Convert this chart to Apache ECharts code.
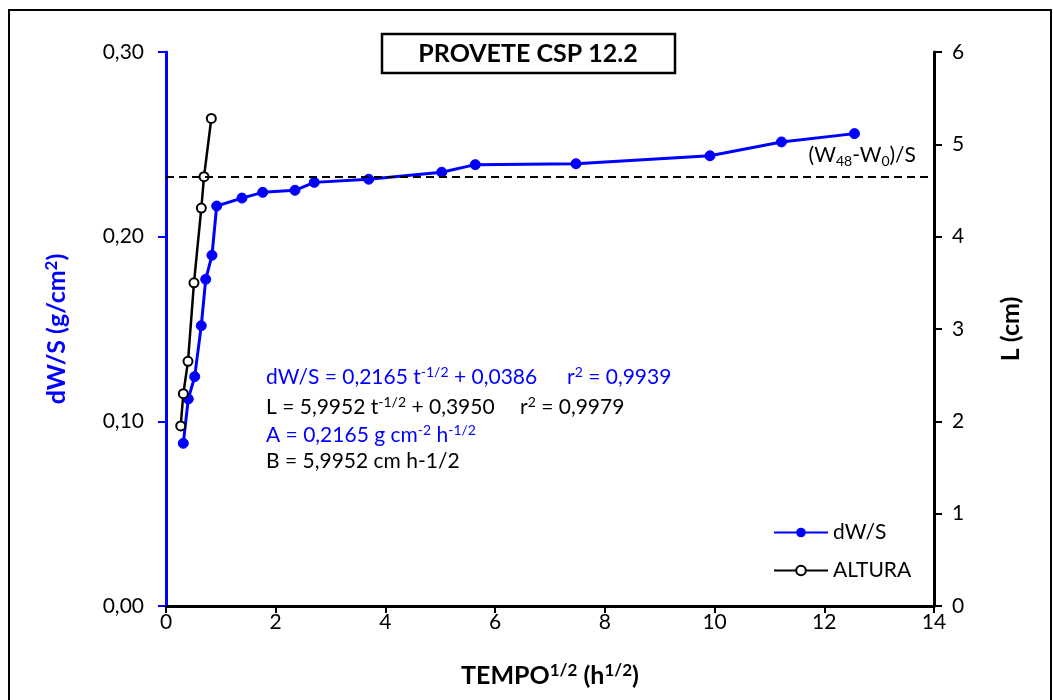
<!DOCTYPE html>
<html>
<head>
<meta charset="utf-8">
<script src="https://cdn.jsdelivr.net/npm/echarts@6/dist/echarts.min.js"></script>
<style>
  html, body { margin: 0; padding: 0; background: #fff; }
  #chart { width: 1053px; height: 700px; }
</style>
</head>
<body>
<div id="chart"></div>
<script>
// Water absorption by capillarity, specimen CSP 12.2
const tempoDW = [0.315, 0.406, 0.523, 0.643, 0.724, 0.838, 0.924, 1.385, 1.763, 2.351, 2.703, 3.695, 5.026, 5.638, 7.474, 9.916, 11.22, 12.55];
const dWS = [0.0881, 0.1121, 0.1242, 0.1518, 0.1769, 0.1899, 0.2166, 0.2209, 0.2240, 0.2251, 0.2294, 0.2311, 0.2349, 0.2390, 0.2395, 0.2438, 0.2513, 0.2558];

const tempoAltura = [0.268, 0.316, 0.401, 0.510, 0.644, 0.693, 0.826];
const altura = [1.95, 2.30, 2.65, 3.50, 4.31, 4.65, 5.28];

// (W48 - W0)/S reference level
const w48Level = 0.2323;

const xTicks = { min: 0, max: 14, interval: 2 };
const yLeftTicks = { min: 0, max: 0.30, interval: 0.10 };
const yRightTicks = { min: 0, max: 6, interval: 1 };

const FONT = 'Lato, "Open Sans", sans-serif';
const BLUE = '#0000ff';

const chart = echarts.init(document.getElementById('chart'), null, { renderer: 'canvas' });

const pair = (xs, ys) => xs.map((x, i) => [x, ys[i]]);

const supStyle = { fontSize: 14, verticalAlign: 'top', padding: [0, 0, 9, 0] };

chart.setOption({
  animation: false,
  backgroundColor: '#fff',
  grid: { left: 166, right: 119, top: 52, bottom: 94 },
  xAxis: {
    type: 'value',
    min: xTicks.min, max: xTicks.max, interval: xTicks.interval,
    axisLine: { lineStyle: { color: '#000', width: 3 } },
    axisTick: { show: true, inside: false, length: 7, lineStyle: { color: '#000', width: 2 } },
    axisLabel: { margin: 6, fontFamily: FONT, fontSize: 21, color: '#000' },
    splitLine: { show: false },
    name: 'TEMPO{s|1/2} (h{s|1/2})',
    nameLocation: 'middle',
    nameGap: 56,
    nameTextStyle: {
      fontFamily: FONT, fontSize: 25, fontWeight: 'bold', color: '#000',
      rich: { s: { fontFamily: FONT, fontSize: 17, fontWeight: 'bold', color: '#000', verticalAlign: 'top', padding: [0, 0, 11, 0] } }
    }
  },
  yAxis: [
    {
      type: 'value', position: 'left',
      min: yLeftTicks.min, max: yLeftTicks.max, interval: yLeftTicks.interval,
      axisLine: { show: true, lineStyle: { color: BLUE, width: 3 } },
      axisTick: { show: true, inside: false, length: 8, lineStyle: { color: BLUE, width: 2 } },
      axisLabel: {
        margin: 22, fontFamily: FONT, fontSize: 21, color: '#000',
        formatter: v => v.toFixed(2).replace('.', ',')
      },
      splitLine: { show: false },
      name: 'dW/S (g/cm{s|2})',
      nameLocation: 'middle',
      nameRotate: 90,
      nameGap: 95,
      nameTextStyle: {
        fontFamily: FONT, fontSize: 25, fontWeight: 'bold', color: BLUE,
        rich: { s: { fontFamily: FONT, fontSize: 17, fontWeight: 'bold', color: BLUE, verticalAlign: 'top', padding: [0, 0, 11, 0] } }
      }
    },
    {
      type: 'value', position: 'right',
      min: yRightTicks.min, max: yRightTicks.max, interval: yRightTicks.interval,
      axisLine: { show: true, lineStyle: { color: '#000', width: 3 } },
      axisTick: { show: true, inside: false, length: 8, lineStyle: { color: '#000', width: 2 } },
      axisLabel: { margin: 18, fontFamily: FONT, fontSize: 21, color: '#000' },
      splitLine: { show: false },
      name: 'L (cm)',
      nameLocation: 'middle',
      nameRotate: 90,
      nameGap: 64,
      nameTextStyle: { fontFamily: FONT, fontSize: 25, fontWeight: 'bold', color: '#000' }
    }
  ],
  legend: {
    orient: 'vertical',
    left: 768, top: 517,
    itemWidth: 54, itemHeight: 12, itemGap: 17,
    textStyle: { fontFamily: FONT, fontSize: 21, color: '#000' },
    data: ['dW/S', 'ALTURA']
  },
  series: [
    {
      name: 'dW/S',
      type: 'line',
      yAxisIndex: 0,
      data: pair(tempoDW, dWS),
      symbol: 'circle',
      symbolSize: 10,
      lineStyle: { color: BLUE, width: 3 },
      itemStyle: { color: BLUE, borderColor: BLUE },
      z: 3,
      markLine: {
        silent: true,
        precision: 4,
        symbol: ['none', 'none'],
        lineStyle: { color: '#000', type: [8, 5], width: 2 },
        label: {
          show: true,
          position: 'insideEndTop',
          distance: [18, 9],
          formatter: '(W{b|48}-W{b|0})/S',
          fontFamily: FONT, fontSize: 21, color: '#000',
          rich: { b: { fontFamily: FONT, fontSize: 14, color: '#000', verticalAlign: 'bottom', padding: [11, 0, 0, 0] } }
        },
        data: [{ yAxis: w48Level }]
      }
    },
    {
      name: 'ALTURA',
      type: 'line',
      yAxisIndex: 1,
      data: pair(tempoAltura, altura),
      symbol: 'circle',
      symbolSize: 9,
      lineStyle: { color: '#000', width: 2.5 },
      itemStyle: { color: '#fff', borderColor: '#000', borderWidth: 2 },
      z: 4
    }
  ],
  graphic: [
    // outer frame
    {
      type: 'rect', silent: true, z: 0,
      shape: { x: 9, y: 10, width: 1042, height: 700 },
      style: { fill: 'none', stroke: '#000', lineWidth: 2 }
    },
    // title box
    {
      type: 'rect', silent: true,
      shape: { x: 382, y: 34, width: 293, height: 39 },
      style: { fill: '#fff', stroke: '#000', lineWidth: 2.5 }
    },
    {
      type: 'text', silent: true,
      x: 528, y: 54,
      style: {
        text: 'PROVETE CSP 12.2',
        fontFamily: FONT, fontSize: 25, fontWeight: 'bold', fill: '#000',
        align: 'center', verticalAlign: 'middle'
      }
    },
    // fitted equations
    {
      type: 'text', silent: true, x: 266, y: 377,
      style: {
        text: 'dW/S = 0,2165 t{s|-1/2} + 0,0386',
        fontFamily: FONT, fontSize: 21, fill: BLUE, verticalAlign: 'middle',
        rich: { s: Object.assign({ fontFamily: FONT, fill: BLUE }, supStyle) }
      }
    },
    {
      type: 'text', silent: true, x: 567, y: 377,
      style: {
        text: 'r{s|2} = 0,9939',
        fontFamily: FONT, fontSize: 21, fill: BLUE, verticalAlign: 'middle',
        rich: { s: Object.assign({ fontFamily: FONT, fill: BLUE }, supStyle) }
      }
    },
    {
      type: 'text', silent: true, x: 266, y: 407,
      style: {
        text: 'L = 5,9952 t{s|-1/2} + 0,3950',
        fontFamily: FONT, fontSize: 21, fill: '#000', verticalAlign: 'middle',
        rich: { s: Object.assign({ fontFamily: FONT, fill: '#000' }, supStyle) }
      }
    },
    {
      type: 'text', silent: true, x: 520, y: 407,
      style: {
        text: 'r{s|2} = 0,9979',
        fontFamily: FONT, fontSize: 21, fill: '#000', verticalAlign: 'middle',
        rich: { s: Object.assign({ fontFamily: FONT, fill: '#000' }, supStyle) }
      }
    },
    {
      type: 'text', silent: true, x: 266, y: 435,
      style: {
        text: 'A = 0,2165 g cm{s|-2} h{s|-1/2}',
        fontFamily: FONT, fontSize: 21, fill: BLUE, verticalAlign: 'middle',
        rich: { s: Object.assign({ fontFamily: FONT, fill: BLUE }, supStyle) }
      }
    },
    {
      type: 'text', silent: true, x: 266, y: 461,
      style: {
        text: 'B = 5,9952 cm h-1/2',
        fontFamily: FONT, fontSize: 21, fill: '#000', verticalAlign: 'middle'
      }
    }
  ]
});
</script>
</body>
</html>
